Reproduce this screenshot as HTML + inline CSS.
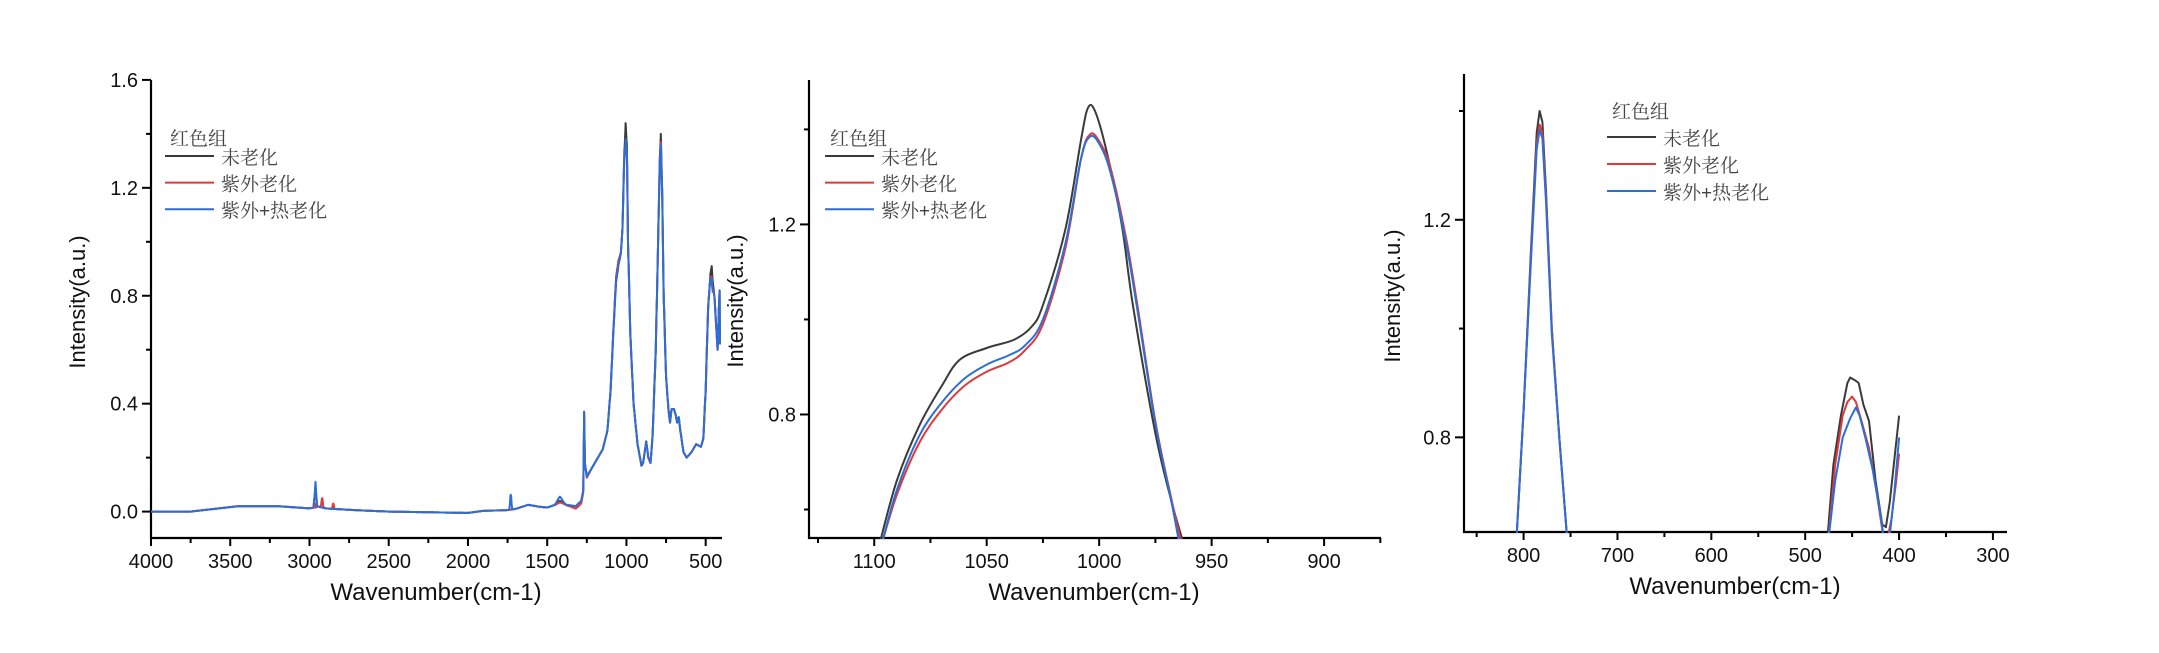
<!DOCTYPE html>
<html><head><meta charset="utf-8">
<style>
html,body{margin:0;padding:0;background:#fff;}
svg{display:block;}
text{font-family:"Liberation Sans",Arial,sans-serif;fill:#111;}
.leg{font-family:"Liberation Sans","Noto Serif CJK SC","Noto Sans CJK SC",serif;fill:#444;font-size:19px;}
</style></head>
<body>
<svg id="s" width="2159" height="653" viewBox="0 0 2159 653" xmlns="http://www.w3.org/2000/svg">
<defs>
<clipPath id="c1"><rect x="151" y="60" width="572" height="479"/></clipPath>
<clipPath id="c2"><rect x="809" y="60" width="573" height="479"/></clipPath>
<clipPath id="c3"><rect x="1464" y="60" width="544" height="473"/></clipPath>
</defs>
<g id="g"></g>
</svg>
<script>
var NS="http://www.w3.org/2000/svg",G=document.getElementById('g');
function el(t,a,p,txt){var e=document.createElementNS(NS,t);for(var k in a)e.setAttribute(k,a[k]);if(txt!==undefined)e.textContent=txt;(p||G).appendChild(e);return e;}
var COL={k:"#3a3a3a",r:"#e0393b",b:"#2b6fd6"};

function panel(P){
  P.sx=function(w){return P.x0+(w-P.wA)/(P.wB-P.wA)*(P.x1-P.x0);};
  P.sy=function(v){return P.y1-(v-P.iA)/(P.iB-P.iA)*(P.y1-P.y0);};
  el('line',{x1:P.x0,y1:P.y0,x2:P.x0,y2:P.y1+1,stroke:"#000","stroke-width":2.2});
  el('line',{x1:P.x0-1,y1:P.y1,x2:P.x1,y2:P.y1,stroke:"#000","stroke-width":2.2});
  P.xt.forEach(function(w){var x=P.sx(w);el('line',{x1:x,y1:P.y1,x2:x,y2:P.y1+8,stroke:"#000","stroke-width":2});
    el('text',{x:x,y:P.y1+30,"text-anchor":"middle","font-size":20},null,String(w));});
  P.xm.forEach(function(w){var x=P.sx(w);el('line',{x1:x,y1:P.y1,x2:x,y2:P.y1+5,stroke:"#000","stroke-width":2});});
  P.yt.forEach(function(v){var y=P.sy(v);el('line',{x1:P.x0-9,y1:y,x2:P.x0,y2:y,stroke:"#000","stroke-width":2});
    el('text',{x:P.x0-13,y:y+7,"text-anchor":"end","font-size":20},null,v.toFixed(1));});
  P.ym.forEach(function(v){var y=P.sy(v);el('line',{x1:P.x0-5,y1:y,x2:P.x0,y2:y,stroke:"#000","stroke-width":2});});
  el('text',{x:P.xl,y:P.y1+62,"text-anchor":"middle","font-size":24},null,"Wavenumber(cm-1)");
  el('text',{x:0,y:0,"text-anchor":"middle","font-size":22,transform:"translate("+P.yl[0]+","+P.yl[1]+") rotate(-90)"},null,"Intensity(a.u.)");
  var L=P.leg;
  el('text',{x:L.x+5,y:L.y0+7,"class":"leg"},null,"红色组");
  var names=["未老化","紫外老化","紫外+热老化"],cs=["k","r","b"];
  for(var i=0;i<3;i++){var y=L.y1+i*L.dy;
    el('line',{x1:L.x,y1:y,x2:L.x+49,y2:y,stroke:COL[cs[i]],"stroke-width":2});
    el('text',{x:L.x+56,y:y+8,"class":"leg"},null,names[i]);}
}
function crPath(P,pts){
  var q=pts.map(function(p){return [P.sx(p[0]),P.sy(p[1])];});
  var d="M"+q[0][0].toFixed(1)+","+q[0][1].toFixed(1);
  for(var i=0;i<q.length-1;i++){
    var p0=q[Math.max(0,i-1)],p1=q[i],p2=q[i+1],p3=q[Math.min(q.length-1,i+2)];
    var c1=[p1[0]+(p2[0]-p0[0])/6,p1[1]+(p2[1]-p0[1])/6],c2=[p2[0]-(p3[0]-p1[0])/6,p2[1]-(p3[1]-p1[1])/6];
    d+=" C"+c1[0].toFixed(1)+","+c1[1].toFixed(1)+" "+c2[0].toFixed(1)+","+c2[1].toFixed(1)+" "+p2[0].toFixed(1)+","+p2[1].toFixed(1);
  }
  return d;
}
function linPath(P,pts){
  return "M"+pts.map(function(p){return P.sx(p[0]).toFixed(1)+","+P.sy(p[1]).toFixed(1);}).join(" L");
}

// ---------- Panel 1 ----------
var P1={x0:151,x1:722,y0:80,y1:538,wA:4000,wB:397,iA:-0.0979,iB:1.5997,
 xt:[4000,3500,3000,2500,2000,1500,1000,500],xm:[3750,3250,2750,2250,1750,1250,750],
 yt:[0,0.4,0.8,1.2,1.6],ym:[0.2,0.6,1.0,1.4],xl:436,yl:[85,302],leg:{x:165,y0:138,y1:156,dy:26.6}};
panel(P1);
var base=[[4000,0],[3750,0],[3600,0.01],[3450,0.02],[3200,0.02],[3000,0.012],[2975,0.014],[2962,0.09],[2952,0.02],[2900,0.012],[2850,0.01],[2700,0.005],[2500,0],[2200,-0.003],[2000,-0.005],[1900,0.003],[1760,0.005],[1700,0.01],[1620,0.025],[1550,0.018],[1500,0.015],[1450,0.025],[1420,0.04],[1380,0.025],[1320,0.02],[1285,0.04],[1272,0.08],[1267,0.37],[1262,0.18],[1250,0.13],[1200,0.18],[1150,0.23],[1120,0.3],[1100,0.45],[1080,0.7],[1065,0.87],[1050,0.93],[1035,0.96],[1025,1.05],[1015,1.3],[1005,1.44],[997,1.35],[990,1.0],[975,0.65],[955,0.4],[930,0.25],[905,0.17],[895,0.18],[875,0.26],[862,0.2],[848,0.18],[835,0.28],[815,0.6],[800,1.0],[790,1.3],[783,1.4],[775,1.2],[765,0.8],[750,0.5],[735,0.38],[725,0.33],[715,0.38],[700,0.38],[690,0.36],[680,0.33],[670,0.35],[660,0.3],[640,0.22],[620,0.2],[590,0.22],[560,0.25],[530,0.24],[515,0.27],[500,0.45],[485,0.75],[470,0.88],[462,0.91],[455,0.85],[445,0.8],[435,0.7],[425,0.6],[417,0.75],[412,0.82],[410,0.62]];
function interp(w){for(var i=0;i<base.length-1;i++){var a=base[i],b=base[i+1];if(w<=a[0]&&w>=b[0]){return a[1]+(b[1]-a[1])*(a[0]-w)/(a[0]-b[0]);}}return 0;}
function gauss(w,c,s,h){return h*Math.exp(-0.5*Math.pow((w-c)/s,2));}
function series(mods){var out=[];var ws=[];for(var w=4000;w>=410;w-=2)ws.push(w);
 base.forEach(function(p){ws.push(p[0]);});ws.sort(function(a,b){return b-a;});
 var prev=null;ws.forEach(function(w){if(w===prev)return;prev=w;var v=interp(w);mods.forEach(function(m){v+=gauss(w,m[0],m[1],m[2]);});out.push([w,v]);});return out;}
var k1=series([]);
var r1=series([[2962,4,-0.07],[2920,4,0.035],[2850,4,0.02],[1420,15,-0.005],[1005,6,-0.06],[783,4,-0.03],[1300,40,-0.01],[460,6,-0.04]]);
var b1=series([[2962,3,0.02],[1730,4,0.055],[1420,15,0.015],[1005,6,-0.06],[783,4,-0.04],[1060,15,-0.02],[460,6,-0.05]]);
var g1=el('g',{"clip-path":"url(#c1)",fill:"none","stroke-width":2,"stroke-linejoin":"round"});
el('path',{d:linPath(P1,k1),stroke:COL.k},g1);
el('path',{d:linPath(P1,r1),stroke:COL.r},g1);
el('path',{d:linPath(P1,b1),stroke:COL.b},g1);

// ---------- Panel 2 ----------
var P2={x0:809,x1:1381,y0:80,y1:538,wA:1129,wB:874.7,iA:0.54,iB:1.504,
 xt:[1100,1050,1000,950,900],xm:[1125,1075,1025,975,925,875],
 yt:[0.8,1.2],ym:[0.6,1.0,1.4],xl:1094,yl:[743,301],leg:{x:825,y0:138,y1:156,dy:26.6}};
panel(P2);
var k2=[[1100,0.47],[1098,0.52],[1090,0.66],[1080,0.776],[1070,0.86],[1062,0.915],[1050,0.94],[1038,0.957],[1030,0.985],[1025,1.03],[1015,1.19],[1008,1.38],[1005,1.445],[1002,1.44],[997,1.36],[990,1.2],[985,1.03],[975,0.76],[968,0.62],[962,0.52],[960,0.48]];
var r2=[[1099,0.47],[1097,0.52],[1090,0.63],[1080,0.74],[1070,0.81],[1060,0.86],[1050,0.89],[1040,0.91],[1033,0.935],[1025,0.99],[1015,1.15],[1008,1.34],[1004,1.39],[1000,1.375],[995,1.32],[988,1.17],[983,1.03],[975,0.785],[968,0.625],[963,0.52],[961,0.48]];
var b2=[[1099,0.47],[1097,0.52],[1090,0.64],[1080,0.755],[1070,0.825],[1060,0.875],[1050,0.905],[1040,0.925],[1033,0.945],[1025,1.0],[1015,1.16],[1008,1.34],[1004,1.385],[1000,1.37],[995,1.31],[988,1.16],[983,1.02],[975,0.78],[968,0.62],[964,0.52],[962,0.48]];
var g2=el('g',{"clip-path":"url(#c2)",fill:"none","stroke-width":2});
el('path',{d:crPath(P2,k2),stroke:COL.k},g2);
el('path',{d:crPath(P2,r2),stroke:COL.r},g2);
el('path',{d:crPath(P2,b2),stroke:COL.b},g2);

// ---------- Panel 3 ----------
var P3={x0:1464,x1:2007,y0:74,y1:532,wA:863.5,wB:285,iA:0.626,iB:1.468,
 xt:[800,700,600,500,400,300],xm:[850,750,650,550,450,350],
 yt:[0.8,1.2],ym:[1.0,1.4],xl:1735,yl:[1400,296],leg:{x:1607,y0:111,y1:137,dy:27}};
panel(P3);
var k3a=[[810,0.55],[808,0.6],[800,0.85],[792,1.15],[786,1.36],[783,1.40],[780,1.38],[776,1.25],[770,1.0],[762,0.8],[753,0.6],[751,0.55]];
var r3a=[[810,0.55],[808,0.6],[800,0.85],[792,1.14],[786,1.34],[783,1.375],[780,1.36],[776,1.24],[770,1.0],[762,0.8],[753,0.6],[751,0.55]];
var b3a=[[810,0.55],[808,0.6],[800,0.85],[792,1.13],[786,1.33],[783,1.365],[780,1.35],[776,1.23],[770,0.99],[762,0.8],[753,0.6],[751,0.55]];
var k3b=[[479,0.55],[477,0.6],[470,0.75],[462,0.84],[455,0.9],[452,0.91],[447,0.905],[443,0.9],[438,0.86],[432,0.83],[425,0.72],[418,0.64],[414,0.635],[410,0.68],[405,0.76],[400,0.84]];
var r3b=[[478,0.55],[476,0.6],[468,0.75],[460,0.84],[455,0.865],[450,0.875],[446,0.865],[440,0.83],[432,0.78],[424,0.7],[417,0.62],[414,0.6],[408,0.65],[403,0.72],[400,0.77]];
var b3b=[[478,0.55],[476,0.6],[468,0.72],[460,0.8],[452,0.835],[446,0.855],[442,0.84],[436,0.8],[428,0.74],[420,0.66],[415,0.6],[411,0.6],[405,0.7],[400,0.8]];
var g3=el('g',{"clip-path":"url(#c3)",fill:"none","stroke-width":2,"stroke-linejoin":"round"});
[[k3a,k3b,'k'],[r3a,r3b,'r'],[b3a,b3b,'b']].forEach(function(s){
  el('path',{d:linPath(P3,s[0]),stroke:COL[s[2]]},g3);
  el('path',{d:linPath(P3,s[1]),stroke:COL[s[2]]},g3);
});
</script>
</body></html>
